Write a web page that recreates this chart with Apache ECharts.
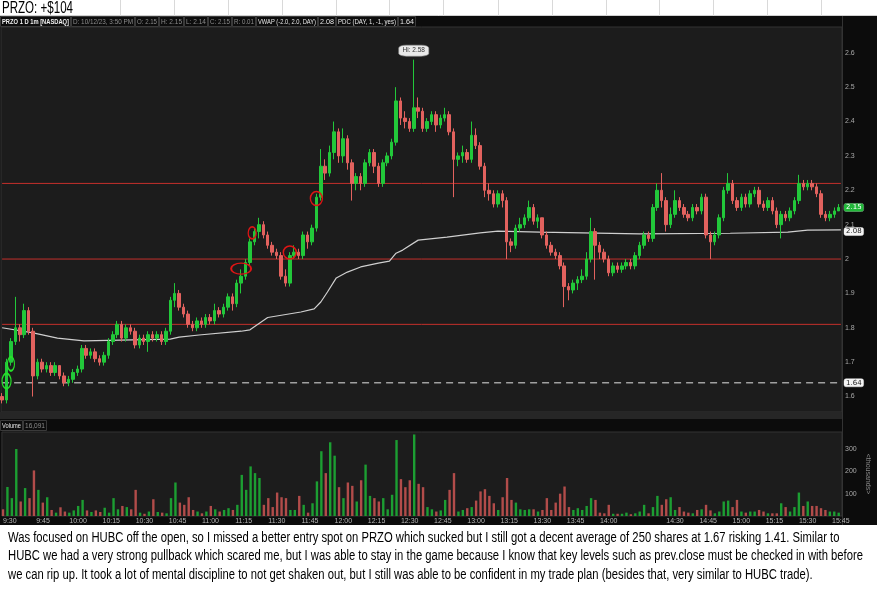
<!DOCTYPE html>
<html>
<head>
<meta charset="utf-8">
<script src="https://cdn.jsdelivr.net/npm/echarts@6/dist/echarts.min.js"></script>
<style>
  html, body { margin: 0; padding: 0; background: #fff; }
  #main { width: 877px; height: 602px; }
</style>
</head>
<body>
<div id="main"></div>
<script>
const firstOpen = 1.60;
const barClose = [
  1.59,1.70,1.76,1.80,1.78,1.85,1.79,1.66,1.70,1.68,
  1.69,1.67,1.69,1.66,1.64,1.65,1.67,1.68,1.74,1.72,
  1.73,1.71,1.70,1.72,1.76,1.78,1.81,1.77,1.80,1.79,
  1.75,1.77,1.76,1.78,1.77,1.78,1.76,1.79,1.88,1.90,
  1.86,1.84,1.81,1.80,1.82,1.81,1.83,1.82,1.85,1.84,
  1.86,1.89,1.87,1.93,1.95,1.99,2.05,2.08,2.10,2.07,
  2.04,2.02,2.01,1.95,1.93,2.01,2.02,2.01,2.07,2.05,
  2.09,2.18,2.27,2.25,2.31,2.37,2.30,2.35,2.28,2.22,
  2.24,2.22,2.28,2.31,2.27,2.22,2.28,2.30,2.34,2.46,
  2.41,2.40,2.38,2.44,2.43,2.38,2.40,2.42,2.39,2.41,
  2.42,2.37,2.29,2.30,2.31,2.29,2.36,2.33,2.27,2.20,
  2.19,2.16,2.19,2.17,2.05,2.04,2.09,2.10,2.12,2.15,
  2.11,2.12,2.07,2.04,2.02,2.01,1.98,1.92,1.91,1.93,
  1.94,1.95,2.00,2.08,2.04,2.02,2.00,1.96,1.98,1.97,
  1.98,1.99,1.98,2.01,2.04,2.07,2.06,2.15,2.20,2.17,
  2.10,2.13,2.17,2.15,2.13,2.12,2.15,2.14,2.18,2.07,
  2.05,2.07,2.12,2.20,2.22,2.17,2.15,2.18,2.16,2.19,
  2.20,2.16,2.15,2.17,2.14,2.10,2.13,2.12,2.14,2.17,
  2.22,2.21,2.22,2.21,2.19,2.13,2.12,2.13,2.14,2.15
];
const barHigh = [
  1.61,1.71,1.77,1.89,1.81,1.87,1.86,1.80,1.71,1.71,
  1.70,1.70,1.70,1.69,1.67,1.66,1.68,1.69,1.75,1.75,
  1.74,1.74,1.72,1.73,1.77,1.79,1.82,1.82,1.81,1.81,
  1.80,1.78,1.78,1.79,1.79,1.79,1.79,1.80,1.89,1.93,
  1.91,1.87,1.85,1.82,1.83,1.83,1.84,1.84,1.87,1.86,
  1.87,1.90,1.90,1.94,1.97,2.00,2.06,2.09,2.12,2.11,
  2.08,2.05,2.03,2.02,1.97,2.02,2.04,2.03,2.08,2.08,
  2.10,2.19,2.32,2.29,2.33,2.40,2.38,2.38,2.36,2.29,
  2.25,2.25,2.29,2.32,2.32,2.28,2.29,2.31,2.35,2.50,
  2.47,2.43,2.41,2.58,2.47,2.44,2.41,2.43,2.43,2.42,
  2.44,2.43,2.38,2.31,2.33,2.32,2.40,2.38,2.34,2.28,
  2.22,2.20,2.20,2.20,2.18,2.06,2.10,2.12,2.13,2.17,
  2.16,2.13,2.12,2.08,2.05,2.03,2.02,1.99,1.93,1.94,
  1.95,1.97,2.02,2.12,2.09,2.05,2.03,2.01,1.99,1.99,
  1.99,2.00,2.00,2.02,2.05,2.08,2.08,2.16,2.22,2.25,
  2.18,2.15,2.20,2.18,2.16,2.14,2.16,2.16,2.19,2.19,
  2.08,2.08,2.13,2.21,2.25,2.23,2.18,2.19,2.19,2.20,
  2.21,2.21,2.17,2.18,2.18,2.15,2.14,2.14,2.15,2.18,
  2.245,2.23,2.23,2.23,2.22,2.20,2.14,2.14,2.15,2.16
];
const barLow = [
  1.58,1.58,1.69,1.75,1.76,1.77,1.78,1.60,1.65,1.67,
  1.67,1.66,1.66,1.65,1.63,1.63,1.64,1.66,1.67,1.71,
  1.71,1.70,1.69,1.69,1.71,1.75,1.77,1.76,1.76,1.78,
  1.74,1.74,1.75,1.73,1.76,1.76,1.75,1.75,1.78,1.86,
  1.85,1.83,1.80,1.79,1.79,1.80,1.80,1.81,1.81,1.83,
  1.83,1.85,1.85,1.86,1.90,1.94,1.98,2.04,2.06,2.06,
  2.03,2.01,2.00,1.94,1.92,1.92,2.00,2.00,2.00,2.03,
  2.04,2.08,2.17,2.23,2.24,2.29,2.28,2.28,2.26,2.17,
  2.20,2.20,2.21,2.27,2.25,2.21,2.21,2.27,2.29,2.33,
  2.39,2.38,2.37,2.37,2.41,2.37,2.37,2.39,2.37,2.38,
  2.40,2.36,2.18,2.27,2.28,2.28,2.28,2.32,2.26,2.18,
  2.17,2.15,2.15,2.15,2.00,2.02,2.03,2.08,2.09,2.11,
  2.10,2.09,2.06,2.03,2.01,2.00,1.97,1.86,1.88,1.90,
  1.91,1.93,1.94,1.99,1.94,2.00,1.99,1.95,1.95,1.96,
  1.96,1.97,1.97,1.97,2.00,2.03,2.05,2.05,2.14,2.15,
  2.08,2.09,2.12,2.14,2.12,2.11,2.11,2.13,2.13,2.06,
  2.00,2.04,2.06,2.11,2.19,2.16,2.14,2.14,2.15,2.15,
  2.18,2.15,2.14,2.14,2.13,2.09,2.06,2.11,2.11,2.13,
  2.16,2.20,2.20,2.20,2.18,2.12,2.11,2.11,2.12,2.14
];
// volume, thousands of shares
const barVolume = [
  30,130,80,300,65,125,80,204,117,60,
  84,27,15,39,20,15,25,45,72,25,
  18,25,18,37,15,80,30,45,40,30,
  117,15,10,20,75,18,15,12,80,150,
  60,50,84,27,20,12,20,45,30,20,
  27,35,27,50,184,117,222,192,170,50,
  80,40,105,84,80,27,27,90,50,15,
  57,155,290,192,330,270,129,80,150,135,
  65,160,230,90,80,65,80,30,95,340,
  165,129,160,365,144,129,40,30,20,25,
  72,117,192,20,27,35,40,69,110,120,
  90,57,27,84,170,72,60,30,27,30,
  30,20,27,80,27,60,100,132,40,27,
  35,27,45,80,72,15,12,50,10,10,
  10,15,8,12,20,50,12,40,90,50,
  75,84,27,40,20,15,12,27,30,50,
  25,12,20,65,69,40,72,20,15,20,
  20,27,20,12,12,12,57,40,20,40,
  105,45,65,45,45,35,27,20,20,15
];
const vwapPoints = [
  ['9:30',1.800],['9:44',1.785],['9:55',1.770],['10:07',1.762],['10:29',1.765],
  ['10:46',1.767],['10:50',1.773],['10:59',1.779],['11:18',1.790],['11:22',1.794],
  ['11:30',1.830],['11:45',1.846],['11:51',1.855],['11:54',1.875],['11:57',1.904],
  ['12:01',1.945],['12:06',1.962],['12:12',1.977],['12:20',1.988],['12:25',1.994],
  ['12:28',2.017],['12:31',2.026],['12:38',2.055],['12:51',2.064],['13:06',2.076],
  ['13:14',2.081],['13:33',2.078],['14:18',2.073],['14:59',2.075],['15:25',2.078],
  ['15:34',2.084],['15:49',2.085]
];
const priceTicks = [1.6, 1.7, 1.8, 1.9, 2, 2.1, 2.2, 2.3, 2.4, 2.5, 2.6];
const volumeTicks = [100, 200, 300];
const timeLabels = ['9:30','9:45','10:00','10:15','10:30','10:45','11:00','11:15','11:30','11:45',
  '12:00','12:15','12:30','12:45','13:00','13:15','13:30','13:45','14:00','14:30','14:45',
  '15:00','15:15','15:30','15:45'];
const keyLevels = [2.22, 2.0, 1.81];
const prevClose = 1.64;
const vwapLast = 2.08;
const lastPrice = 2.15;

// hand drawn circles on the screenshot: time, price, width, height
const greenNotes = [['9:34', 1.695, 7, 14], ['9:32', 1.645, 9, 15]];
const redNotes = [['11:18', 1.972, 20, 11], ['11:23', 2.076, 8, 12], ['11:40', 2.019, 13, 13], ['11:52', 2.176, 12, 14]];

const paragraph = [
  'Was focused on HUBC off the open, so I missed a better entry spot on PRZO which sucked but I still got a decent average of 250 shares at 1.67 risking 1.41. Similar to',
  'HUBC we had a very strong pullback which scared me, but I was able to stay in the game because I know that key levels such as prev.close must be checked in with before',
  'we can rip up. It took a lot of mental discipline to not get shaken out, but I still was able to be confident in my trade plan (besides that, very similar to HUBC trade).'
];

// one category per minute, 9:30 .. 15:49
const minutes = [];
for (let m = 0; m < 380; m++) {
  const t = 570 + m;
  minutes.push(Math.floor(t / 60) + ':' + String(t % 60).padStart(2, '0'));
}
const firstMin = minutes[0];
const lastMin = minutes[minutes.length - 1];

const upColor = '#22c83a';
const downColor = '#e2625e';
const volUp = '#1c9e32';
const volDown = '#b24c4a';

const candles = barClose.map((c, i) => [i * 2, i ? barClose[i - 1] : firstOpen, c, barLow[i], barHigh[i]]);
const volumes = barVolume.map((v, i) => ({
  value: [i * 2, v],
  itemStyle: { color: candles[i][2] >= candles[i][1] ? volUp : volDown }
}));

let hiIdx = 0;
barHigh.forEach((h, i) => { if (h > barHigh[hiIdx]) hiIdx = i; });

// the screenshot uses a condensed UI font, so squeeze Liberation Sans to fit
const sans = "'Liberation Sans', Arial, sans-serif";
const measureCtx = document.createElement('canvas').getContext('2d');
function textWidth(text, font) {
  measureCtx.font = font;
  return measureCtx.measureText(text).width;
}

function tag(v, bg, fg) {
  return {
    show: true, position: 'end', distance: 2, formatter: String(v),
    fontSize: 7, color: fg, backgroundColor: bg, borderColor: '#777', borderWidth: 0.5,
    padding: [1, 2, 0, 2], borderRadius: 2, fontFamily: 'DejaVu Sans'
  };
}

function ring(n, color) {
  return {
    coord: [n[0], n[1]], symbol: 'circle', symbolSize: [n[2], n[3]],
    itemStyle: { color: 'rgba(0,0,0,0)', borderColor: color, borderWidth: 1.5 },
    label: { show: false }
  };
}

function levelSeries(v, color, width, type) {
  return {
    type: 'line', xAxisIndex: 0, yAxisIndex: 0, symbol: 'none', silent: true, z: 1,
    data: [[firstMin, v], [lastMin, v]],
    lineStyle: { color: color, width: width, type: type }
  };
}

// header strip of the trading platform
const headerSegs = [
  [0, 71, 'PRZO 1 D 1m [NASDAQ]', '#f0f0f0', 'bold'],
  [71, 135, 'D: 10/12/23, 3:50 PM', '#8c8c8c', 'normal'],
  [135, 159, 'O: 2.15', '#8c8c8c', 'normal'],
  [159, 184, 'H: 2.15', '#8c8c8c', 'normal'],
  [184, 208, 'L: 2.14', '#8c8c8c', 'normal'],
  [208, 232, 'C: 2.15', '#8c8c8c', 'normal'],
  [232, 256, 'R: 0.01', '#8c8c8c', 'normal'],
  [256, 318, 'VWAP (-2.0, 2.0, DAY)', '#e6e6e6', 'normal'],
  [318, 336, '2.08', '#e6e6e6', 'normal'],
  [336, 398, 'PDC (DAY, 1, -1, yes)', '#e6e6e6', 'normal'],
  [398, 416, '1.64', '#e6e6e6', 'normal']
];
const volSegs = [
  [0, 23, 'Volume', '#e6e6e6', 'normal'],
  [23, 47, '16,091', '#8c8c8c', 'normal']
];
const excelCols = [120, 174, 228, 282, 336, 389, 443, 498, 552, 606, 659, 713, 767, 821];

const titleFont = '16px ' + sans;
const graphics = [
  { type: 'rect', shape: { x: 0, y: 0, width: 877, height: 16 }, style: { fill: '#fff' } },
  { type: 'rect', shape: { x: 0, y: 525, width: 877, height: 77 }, style: { fill: '#fff' } },
  { type: 'line', shape: { x1: 0, y1: 15.5, x2: 877, y2: 15.5 }, style: { stroke: '#d0d0d0', lineWidth: 1 } },
  {
    type: 'text', x: 2, y: 8.5, scaleX: 71 / textWidth('PRZO: +$104', titleFont),
    style: { text: 'PRZO: +$104', font: titleFont, fill: '#000', verticalAlign: 'middle' }
  },
  { type: 'rect', shape: { x: 0, y: 412, width: 842, height: 7 }, style: { fill: '#262626' } },
  { type: 'line', shape: { x1: 842.5, y1: 16, x2: 842.5, y2: 525 }, style: { stroke: '#333', lineWidth: 1 } },
  {
    type: 'text', x: 868, y: 474, rotation: -Math.PI / 2,
    style: { text: '<thousands>', font: '7px ' + sans, fill: '#888', align: 'center', verticalAlign: 'middle' }
  }
];
excelCols.forEach(x => graphics.push({
  type: 'line', shape: { x1: x + 0.5, y1: 0, x2: x + 0.5, y2: 16 }, style: { stroke: '#d9d9d9', lineWidth: 1 }
}));
function addSegs(segs, top) {
  segs.forEach(s => {
    const font = s[4] + ' 7.5px ' + sans;
    const room = s[1] - s[0] - 4;
    graphics.push({
      type: 'rect', shape: { x: s[0] + 0.5, y: top + 0.5, width: s[1] - s[0] - 1, height: 10 },
      style: { fill: '#0d0d0d', stroke: '#3a3a3a', lineWidth: 1 }
    });
    graphics.push({
      type: 'text', x: s[0] + 2, y: top + 6, scaleX: Math.min(1, room / textWidth(s[2], font)),
      style: { text: s[2], font: font, fill: s[3], verticalAlign: 'middle' }
    });
  });
}
addSegs(headerSegs, 16);
addSegs(volSegs, 420);
const paraFont = '14px ' + sans;
const paraScale = 855 / textWidth(paragraph[1], paraFont);
paragraph.forEach((line, i) => graphics.push({
  type: 'text', x: 8, y: 538 + i * 18.5, scaleX: paraScale,
  style: { text: line, font: paraFont, fill: '#000', verticalAlign: 'middle' }
}));

const chart = echarts.init(document.getElementById('main'));
chart.setOption({
  animation: false,
  backgroundColor: '#0c0c0c',
  grid: [
    { left: 1, top: 27, width: 841, height: 385, show: true, backgroundColor: '#1c1c1c', borderColor: '#333', borderWidth: 1 },
    { left: 1, top: 432, width: 841, height: 84, show: true, backgroundColor: '#1c1c1c', borderColor: '#333', borderWidth: 1 }
  ],
  xAxis: [
    { type: 'category', gridIndex: 0, data: minutes, show: false },
    {
      type: 'category', gridIndex: 1, data: minutes,
      axisLine: { show: false }, axisTick: { show: false }, splitLine: { show: false },
      axisLabel: {
        interval: (idx, val) => timeLabels.indexOf(val) >= 0,
        align: 'left', margin: 2, fontSize: 7, color: '#b5b5b5', fontFamily: sans
      }
    }
  ],
  yAxis: [
    {
      type: 'value', gridIndex: 0, position: 'right', min: 1.555, max: 2.675,
      axisLine: { show: false }, axisTick: { show: false }, splitLine: { show: false },
      axisLabel: { customValues: priceTicks, margin: 3, fontSize: 7, color: '#a8a8a8', fontFamily: sans }
    },
    {
      type: 'value', gridIndex: 1, position: 'right', min: 0, max: 376,
      axisLine: { show: false }, axisTick: { show: false }, splitLine: { show: false },
      axisLabel: { customValues: volumeTicks, margin: 3, fontSize: 7, color: '#a8a8a8', fontFamily: sans }
    }
  ],
  series: [
    ...keyLevels.map(v => levelSeries(v, '#c4302b', 1, 'solid')),
    levelSeries(prevClose, '#a0a0a0', 1.5, [7, 5]),
    {
      type: 'line', name: 'VWAP', xAxisIndex: 0, yAxisIndex: 0, data: vwapPoints,
      symbol: 'none', lineStyle: { color: '#cfcfcf', width: 1.2 }, z: 1
    },
    {
      // price tags on the right edge
      type: 'line', name: 'Tags', xAxisIndex: 0, yAxisIndex: 0, data: [], z: 1,
      markLine: {
        symbol: 'none', silent: true, animation: false,
        lineStyle: { color: 'rgba(0,0,0,0)', width: 0 },
        data: [
          { yAxis: prevClose, label: tag(prevClose, '#f4f4f4', '#222') },
          { yAxis: vwapLast, label: tag(vwapLast, '#f4f4f4', '#222') },
          { yAxis: lastPrice, label: tag(lastPrice, '#22b83a', '#fff') }
        ]
      }
    },
    {
      type: 'candlestick', name: 'PRZO', xAxisIndex: 0, yAxisIndex: 0, data: candles,
      encode: { x: 0, y: [1, 2, 3, 4] }, barWidth: 3, z: 2,
      itemStyle: { color: upColor, color0: downColor, borderColor: upColor, borderColor0: downColor, borderWidth: 1 },
      markPoint: {
        silent: true, animation: false,
        data: [
          {
            coord: [minutes[hiIdx * 2], barHigh[hiIdx]], symbol: 'roundRect', symbolSize: [30, 11], symbolOffset: [0, -9],
            itemStyle: { color: '#e9e9e9', borderColor: '#999', borderWidth: 0.5 },
            label: { show: true, position: 'inside', formatter: 'Hi: ' + barHigh[hiIdx], fontSize: 6.5, color: '#333', fontFamily: sans }
          },
          ...greenNotes.map(n => ring(n, '#27e02a')),
          ...redNotes.map(n => ring(n, '#e01515'))
        ]
      }
    },
    {
      type: 'bar', name: 'Volume', xAxisIndex: 1, yAxisIndex: 1, data: volumes, barWidth: 2.4
    }
  ],
  graphic: graphics
});
</script>
</body>
</html>
